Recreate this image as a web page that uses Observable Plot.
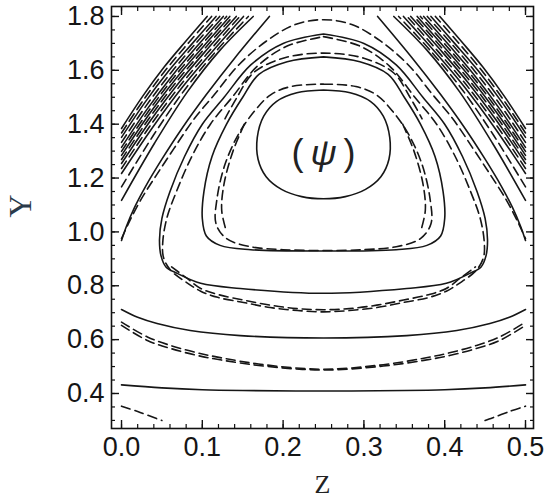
<!DOCTYPE html>
<html><head><meta charset="utf-8">
<script src="https://cdn.jsdelivr.net/npm/d3@7"></script>
<script src="https://cdn.jsdelivr.net/npm/@observablehq/plot@0.6"></script>
<style>body{margin:0;background:#fff}</style>
</head><body><div id="chart"></div>
<script>
const zTicks = [0, 0.1, 0.2, 0.3, 0.4, 0.5];
const yTicks = [0.4, 0.6, 0.8, 1.0, 1.2, 1.4, 1.6, 1.8];
const zMinor = d3.range(0, 0.5001, 0.02);
const yMinor = d3.range(0.3, 1.8001, 0.05);

// ---- solid contours, [Z, Y] ----
const solidInner = [[0.25,1.527],[0.283,1.517],[0.308,1.485],[0.324,1.43],[0.332,1.35],[0.331,1.27],[0.321,1.205],[0.302,1.158],[0.277,1.131],[0.25,1.123],[0.223,1.131],[0.198,1.158],[0.179,1.205],[0.169,1.27],[0.168,1.35],[0.176,1.43],[0.192,1.485],[0.217,1.517],[0.25,1.527]];
const solidMid = [[0.25,1.650],[0.295,1.632],[0.33,1.585],[0.35,1.50],[0.37,1.40],[0.388,1.28],[0.398,1.15],[0.400,1.05],[0.395,0.985],[0.378,0.950],[0.34,0.934],[0.25,0.929],[0.16,0.934],[0.122,0.950],[0.105,0.985],[0.100,1.05],[0.102,1.15],[0.112,1.28],[0.13,1.40],[0.15,1.50],[0.17,1.585],[0.205,1.632],[0.25,1.650]];
const solidOuter = [[0.25,1.735],[0.30,1.70],[0.34,1.62],[0.373,1.50],[0.40,1.40],[0.422,1.28],[0.44,1.15],[0.45,1.05],[0.453,0.97],[0.451,0.91],[0.445,0.87],[0.431,0.846],[0.402,0.809],[0.353,0.790],[0.25,0.772],[0.147,0.790],[0.098,0.809],[0.069,0.846],[0.055,0.87],[0.049,0.91],[0.047,0.97],[0.05,1.05],[0.06,1.15],[0.078,1.28],[0.10,1.40],[0.127,1.50],[0.16,1.62],[0.20,1.70],[0.25,1.735]];
const solidLow1 = [[0,0.712],[0.02,0.683],[0.044,0.660],[0.085,0.634],[0.147,0.615],[0.25,0.606],[0.353,0.615],[0.415,0.634],[0.456,0.660],[0.48,0.683],[0.5,0.712]];
const solidLow2 = [[0,0.432],[0.05,0.421],[0.1,0.414],[0.15,0.411],[0.25,0.409],[0.35,0.411],[0.4,0.414],[0.45,0.421],[0.5,0.432]];
// open contours: left edge -> top edge, and top edge -> right edge
const solidLeft = [
  [[0,1.384],[0.0265,1.505],[0.053,1.613],[0.0795,1.708],[0.106,1.8]],
  [[0,1.351],[0.029,1.481],[0.0585,1.598],[0.088,1.701],[0.117,1.8]],
  [[0,1.314],[0.0315,1.455],[0.063,1.581],[0.0945,1.693],[0.126,1.8]],
  [[0,1.284],[0.0335,1.434],[0.067,1.568],[0.1005,1.686],[0.134,1.8]],
  [[0,1.254],[0.0355,1.412],[0.071,1.554],[0.1065,1.680],[0.142,1.8]],
  [[0,1.217],[0.038,1.386],[0.0755,1.538],[0.113,1.672],[0.151,1.8]],
  [[0,1.117],[0.041,1.330],[0.0815,1.520],[0.122,1.675],[0.163,1.8]],
  [[0,0.968],[0.006,1.02],[0.016,1.09],[0.03,1.17],[0.05,1.27],[0.075,1.385],[0.105,1.51],[0.14,1.645],[0.183,1.8]]
];
const solidRight = [
  [[0.5,1.384],[0.4735,1.505],[0.447,1.613],[0.4205,1.708],[0.394,1.8]],
  [[0.5,1.351],[0.471,1.481],[0.4415,1.598],[0.412,1.701],[0.383,1.8]],
  [[0.5,1.314],[0.4685,1.455],[0.437,1.581],[0.4055,1.693],[0.374,1.8]],
  [[0.5,1.284],[0.4665,1.434],[0.433,1.568],[0.3995,1.686],[0.366,1.8]],
  [[0.5,1.254],[0.4645,1.412],[0.429,1.554],[0.3935,1.680],[0.358,1.8]],
  [[0.5,1.217],[0.462,1.386],[0.4245,1.538],[0.387,1.672],[0.349,1.8]],
  [[0.5,1.117],[0.459,1.330],[0.4185,1.520],[0.378,1.675],[0.337,1.8]],
  [[0.5,0.968],[0.494,1.02],[0.484,1.09],[0.47,1.17],[0.45,1.27],[0.425,1.385],[0.395,1.51],[0.36,1.645],[0.317,1.8]]
];

// ---- dashed contours, [Z, Y] ----
const dashInner = [[0.25,1.549],[0.29,1.54],[0.315,1.51],[0.335,1.45],[0.355,1.364],[0.372,1.25],[0.382,1.12],[0.383,1.03],[0.37,0.975],[0.34,0.945],[0.30,0.934],[0.25,0.931],[0.20,0.934],[0.16,0.945],[0.13,0.975],[0.117,1.03],[0.118,1.12],[0.128,1.25],[0.145,1.364],[0.165,1.45],[0.185,1.51],[0.21,1.54],[0.25,1.549]];
const dashInnerL = [[0.152,1.40],[0.138,1.30],[0.127,1.18],[0.124,1.08],[0.13,1.0]];
const dashInnerR = [[0.348,1.40],[0.362,1.30],[0.373,1.18],[0.376,1.08],[0.37,1.0]];
const dashMid = [[0.128,1.42],[0.143,1.50],[0.163,1.59],[0.20,1.645],[0.25,1.664],[0.30,1.645],[0.337,1.59],[0.357,1.50],[0.372,1.42]];
const dashOuter = [[0.25,1.725],[0.295,1.69],[0.332,1.615],[0.363,1.50],[0.39,1.40],[0.413,1.28],[0.432,1.15],[0.444,1.05],[0.449,0.96],[0.448,0.905],[0.439,0.857],[0.418,0.809],[0.402,0.780],[0.381,0.757],[0.349,0.738],[0.316,0.719],[0.282,0.708],[0.25,0.703],[0.218,0.708],[0.184,0.719],[0.151,0.738],[0.119,0.757],[0.098,0.780],[0.082,0.809],[0.061,0.857],[0.052,0.905],[0.051,0.96],[0.056,1.05],[0.068,1.15],[0.087,1.28],[0.11,1.40],[0.137,1.50],[0.168,1.615],[0.205,1.69],[0.25,1.725]];
const dashOuterB = [[0.062,0.87],[0.08,0.83],[0.098,0.79],[0.12,0.767],[0.151,0.747],[0.184,0.728],[0.218,0.715],[0.25,0.711],[0.282,0.715],[0.316,0.728],[0.349,0.747],[0.38,0.767],[0.402,0.79],[0.42,0.83],[0.438,0.87]];
const dashArch = [[0,0.975],[0.01,1.04],[0.024,1.12],[0.043,1.21],[0.065,1.31],[0.09,1.42],[0.115,1.51],[0.145,1.62],[0.18,1.71],[0.215,1.77],[0.25,1.788],[0.285,1.77],[0.32,1.71],[0.355,1.62],[0.385,1.51],[0.41,1.42],[0.435,1.31],[0.457,1.21],[0.476,1.12],[0.49,1.04],[0.5,0.975]];
const dashLow1 = [[0,0.653],[0.032,0.597],[0.061,0.567],[0.094,0.541],[0.126,0.523],[0.176,0.502],[0.25,0.487],[0.324,0.502],[0.374,0.523],[0.406,0.541],[0.439,0.567],[0.468,0.597],[0.5,0.653]];
const dashLow1b = [[0,0.665],[0.032,0.610],[0.061,0.578],[0.094,0.551],[0.126,0.531],[0.176,0.507],[0.25,0.490],[0.324,0.507],[0.374,0.531],[0.406,0.551],[0.439,0.578],[0.468,0.610],[0.5,0.665]];
const dashCornerL = [[0,0.353],[0.02,0.333],[0.045,0.305],[0.05,0.300]];
const dashCornerR = [[0.45,0.300],[0.455,0.305],[0.48,0.333],[0.5,0.353]];
const dashLeft = [
  [[0,1.3675],[0.0279,1.493],[0.0558,1.6055],[0.0836,1.7045],[0.1115,1.8]],
  [[0,1.3325],[0.0304,1.468],[0.0608,1.5895],[0.0911,1.697],[0.1215,1.8]],
  [[0,1.299],[0.0325,1.4445],[0.065,1.5745],[0.0975,1.6895],[0.130,1.8]],
  [[0,1.269],[0.0345,1.423],[0.069,1.561],[0.1035,1.683],[0.138,1.8]],
  [[0,1.2355],[0.0366,1.399],[0.0733,1.546],[0.1099,1.676],[0.1465,1.8]],
  [[0,1.167],[0.0393,1.358],[0.0785,1.529],[0.1178,1.6735],[0.157,1.8]]
];
const dashRight = [
  [[0.5,1.3675],[0.4721,1.493],[0.4442,1.6055],[0.4164,1.7045],[0.3885,1.8]],
  [[0.5,1.3325],[0.4696,1.468],[0.4392,1.5895],[0.4089,1.697],[0.3785,1.8]],
  [[0.5,1.299],[0.4675,1.4445],[0.435,1.5745],[0.4025,1.6895],[0.370,1.8]],
  [[0.5,1.269],[0.4655,1.423],[0.431,1.561],[0.3965,1.683],[0.362,1.8]],
  [[0.5,1.2355],[0.4634,1.399],[0.4267,1.546],[0.3901,1.676],[0.3535,1.8]],
  [[0.5,1.167],[0.4607,1.358],[0.4215,1.529],[0.3822,1.6735],[0.343,1.8]]
];

function rows(list, prefix) {
  const out = [];
  list.forEach((pts, i) => pts.forEach(([z, y]) => out.push({id: prefix + i, z, y})));
  return out;
}
const solidRows = rows([solidInner, solidMid, solidOuter, solidLow1, solidLow2, ...solidLeft, ...solidRight], "s");
const dashRows = rows([dashInner, dashInnerL, dashInnerR, dashMid, dashOuter, dashOuterB, dashArch, dashLow1, dashLow1b, dashCornerL, dashCornerR, ...dashLeft, ...dashRight], "d");

const blank = () => "";
const ink = "#161616";
const chart = Plot.plot({
  width: 545, height: 503,
  marginLeft: 111, marginRight: 12, marginTop: 6, marginBottom: 75,
  style: {fontFamily: "'Liberation Sans', Arial, sans-serif", fontSize: "27px", color: "#151515", background: "#fff", overflow: "hidden"},
  x: {domain: [-0.0124, 0.5099]},
  y: {domain: [0.270, 1.837]},
  marks: [
    Plot.line(solidRows, {x: "z", y: "y", z: "id", stroke: ink, strokeWidth: 1.6, curve: "catmull-rom"}),
    Plot.line(dashRows, {x: "z", y: "y", z: "id", stroke: ink, strokeWidth: 1.6, strokeDasharray: "9,5", curve: "catmull-rom"}),
    Plot.axisX({anchor: "bottom", ticks: zTicks, tickSize: -8, tickPadding: 16, tickFormat: d3.format(".1f"), label: null, strokeWidth: 1.4, stroke: "#111"}),
    Plot.axisX({anchor: "bottom", ticks: zMinor, tickSize: -4, tickFormat: blank, label: null, strokeWidth: 1.2, stroke: "#111"}),
    Plot.axisX({anchor: "top", ticks: zTicks, tickSize: -8, tickFormat: blank, label: null, strokeWidth: 1.4, stroke: "#111"}),
    Plot.axisX({anchor: "top", ticks: zMinor, tickSize: -4, tickFormat: blank, label: null, strokeWidth: 1.2, stroke: "#111"}),
    Plot.axisY({anchor: "left", ticks: yTicks, tickSize: -8, tickPadding: 15, tickFormat: d3.format(".1f"), label: null, strokeWidth: 1.4, stroke: "#111"}),
    Plot.axisY({anchor: "left", ticks: yMinor, tickSize: -4, tickFormat: blank, label: null, strokeWidth: 1.2, stroke: "#111"}),
    Plot.axisY({anchor: "right", ticks: yTicks, tickSize: -8, tickFormat: blank, label: null, strokeWidth: 1.4, stroke: "#111"}),
    Plot.axisY({anchor: "right", ticks: yMinor, tickSize: -4, tickFormat: blank, label: null, strokeWidth: 1.2, stroke: "#111"}),
    Plot.frame({stroke: "#111", strokeWidth: 1.6}),
    Plot.text(["("], {x: [0.25], y: [1.29], dx: -26, text: d => d, fontSize: 36, fill: "#222"}),
    Plot.text(["ψ"], {x: [0.25], y: [1.29], dx: 0, text: d => d, fontSize: 36, fontStyle: "italic", fill: "#222"}),
    Plot.text([")"], {x: [0.25], y: [1.29], dx: 26, text: d => d, fontSize: 36, fill: "#222"}),
    Plot.text(["Z"], {frameAnchor: "bottom", dy: 46, lineAnchor: "top", text: d => d, fontFamily: "'Liberation Serif', serif", fontSize: 26, fill: "#222"}),
    Plot.text(["Υ"], {frameAnchor: "left", dx: -91, rotate: -90, text: d => d, fontFamily: "'Liberation Serif', serif", fontSize: 32, fill: "#2a3a4a"})
  ]
});
document.getElementById("chart").appendChild(chart);
</script>
</body></html>
